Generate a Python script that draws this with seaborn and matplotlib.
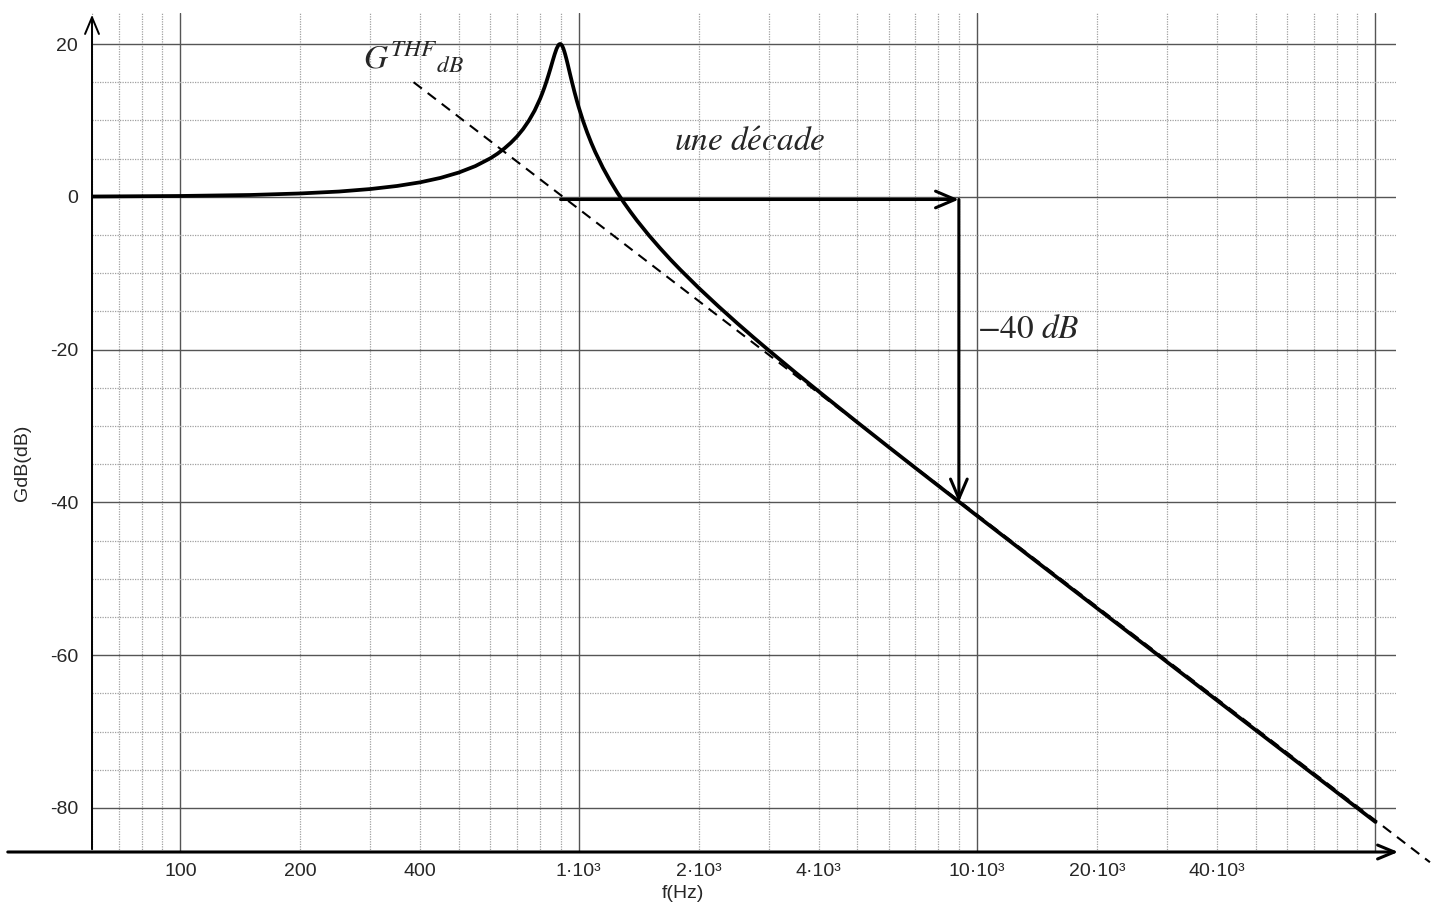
import matplotlib

matplotlib.use("Agg")

import matplotlib.pyplot as plt
import pandas as pd
import seaborn as sns

# gain curve (Hz, dB)
freq_hz = [60, 100, 150, 200, 250, 300, 350, 400, 450, 500, 550, 600, 625, 650,
           675, 700, 725, 750, 775, 800, 810, 820, 830, 840, 850, 860, 870,
           880, 890, 895, 900, 905, 910, 915, 920, 925, 930, 935, 940, 950,
           960, 975, 990, 1000, 1025, 1050, 1075, 1100, 1150, 1200, 1250,
           1300, 1350, 1400, 1500, 1600, 1700, 1800, 2000, 2250, 2500, 2750,
           3000, 3500, 4000, 5000, 6000, 7000, 10000, 20000, 50000, 100000]
gain_db = [0.04, 0.11, 0.24, 0.44, 0.69, 1.02, 1.42, 1.90, 2.48, 3.18, 4.02,
           5.04, 5.64, 6.31, 7.06, 7.90, 8.87, 9.99, 11.29, 12.84, 13.55,
           14.30, 15.11, 15.97, 16.86, 17.78, 18.65, 19.40, 19.89, 19.99,
           20.00, 19.90, 19.70, 19.41, 19.04, 18.62, 18.16, 17.68, 17.18,
           16.16, 15.18, 13.78, 12.50, 11.72, 9.95, 8.42, 7.07, 5.87, 3.80,
           2.06, 0.54, -0.80, -2.00, -3.10, -5.04, -6.72, -8.22, -9.56,
           -11.92, -14.41, -16.55, -18.43, -20.10, -23.00, -25.46, -29.50,
           -32.76, -35.49, -41.76, -53.85, -69.79, -81.83]

# high-frequency asymptote (dashed)
asym_hz = [385, 137000]
asym_db = [15.0, -87.1]

# "une décade" / "-40 dB" construction
decade_hz = [900, 9000]
decade_db = [-0.35, -40.0]

xtick_major = [100, 1000, 10000, 100000]
xtick_major_labels = ["100", "1·10³", "10·10³", ""]
xtick_minor = [60, 70, 80, 90, 200, 300, 400, 500, 600, 700, 800, 900,
               2000, 3000, 4000, 5000, 6000, 7000, 8000, 9000,
               20000, 30000, 40000, 50000, 60000, 70000, 80000, 90000]
minor_names = {200: "200", 400: "400", 2000: "2·10³", 4000: "4·10³",
               20000: "20·10³", 40000: "40·10³"}
xtick_minor_labels = [minor_names.get(v, "") for v in xtick_minor]
ytick_major = [-80, -60, -40, -20, 0, 20]
ytick_minor = [-75, -70, -65, -55, -50, -45, -35, -30, -25, -15, -10, -5,
               5, 10, 15]

sns.set_style("white")
plt.rcParams["font.family"] = ["Liberation Sans", "DejaVu Sans"]
plt.rcParams["mathtext.fontset"] = "stix"

W, H = 1437, 907
fig = plt.figure(figsize=(W / 100, H / 100), dpi=100)
ax = fig.add_axes([92 / W, (H - 852) / H, (1396 - 92) / W, (852 - 13) / H])

df = pd.DataFrame({"f": freq_hz, "g": gain_db})
sns.lineplot(data=df, x="f", y="g", ax=ax, color="black", lw=2.7,
             sort=False, zorder=5)
ax.plot(asym_hz, asym_db, color="black", lw=1.5, ls=(0, (5, 3.5)),
        clip_on=False, zorder=4)

ax.set_xscale("log")
ax.set_xlim(60, 112600)
ax.set_ylim(-85.76, 24.06)

ax.set_xticks(xtick_major, xtick_major_labels)
ax.set_xticks(xtick_minor, xtick_minor_labels, minor=True)
ax.set_yticks(ytick_major, [str(v) for v in ytick_major])
ax.set_yticks(ytick_minor, minor=True)
ax.tick_params(which="both", length=0, labelsize=14)
ax.tick_params(axis="x", which="both", pad=8)
ax.tick_params(axis="y", pad=10)

ax.grid(which="major", color="#555555", lw=1.0, ls="-")
ax.grid(which="minor", color="#a0a0a0", lw=0.9, ls=(0, (1, 1)))
ax.set_axisbelow(True)
for sp in ax.spines.values():
    sp.set_visible(False)
ax.set_xlabel("")
ax.set_ylabel("")

# axes drawn as arrows
fig.add_artist(matplotlib.patches.FancyArrowPatch(
    (5 / W, (H - 852) / H), (1401 / W, (H - 852) / H),
    transform=fig.transFigure, arrowstyle="->,head_length=12,head_width=5",
    mutation_scale=1, lw=2.2, color="black"))
fig.add_artist(matplotlib.patches.FancyArrowPatch(
    (92 / W, (H - 852) / H), (92 / W, (H - 12) / H),
    transform=fig.transFigure, arrowstyle="->,head_length=12,head_width=5",
    mutation_scale=1, lw=1.4, color="black"))

# decade and -40 dB arrows
arrow_kw = dict(arrowstyle="->,head_length=14,head_width=6", mutation_scale=1,
                lw=2.2, color="black", shrinkA=0, shrinkB=0)
ax.annotate("", xy=(decade_hz[1], decade_db[0]), xytext=(decade_hz[0], decade_db[0]),
            arrowprops=arrow_kw, zorder=6)
ax.annotate("", xy=(decade_hz[1], decade_db[1]), xytext=(decade_hz[1], decade_db[0]),
            arrowprops=arrow_kw, zorder=6)

ax.text(2694, 7.1, r"$une\ d\acute{e}cade$", fontsize=24, ha="center",
        va="center", zorder=7)
ax.text(10000, -17.4, r"$-40\ dB$", fontsize=24, ha="left", va="center",
        zorder=7)
ax.text(288, 18.2, r"$G^{THF}{}_{dB}$", fontsize=24, ha="left", va="center",
        zorder=7)

fig.text(683 / W, (H - 893) / H, "f(Hz)", fontsize=14, ha="center", va="center")
fig.text(22 / W, (H - 463) / H, "GdB(dB)", fontsize=14, ha="center",
         va="center", rotation=90)

fig.savefig("out.png", dpi=100)
